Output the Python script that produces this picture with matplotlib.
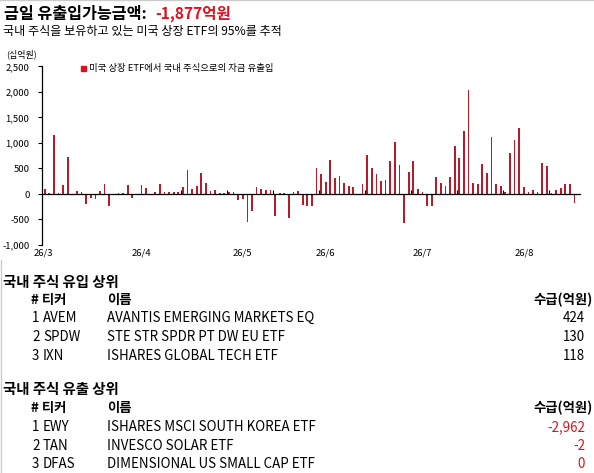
import numpy as np
import matplotlib
matplotlib.use("Agg")
import matplotlib.pyplot as plt
from matplotlib.transforms import blended_transform_factory

plt.rcParams['font.family'] = ['Noto Sans CJK KR', 'DejaVu Sans']

# daily flows, 십억원
flows = [105, 25, 1160, 20, 175, 730, 0, 65, 40, -195, -80, -95, 65, 195, -235,
         0, 20, 25, 180, -70, -25, 180, 110, 0, 45, 195, 45, 40, 45, 40,
         145, 470, 100, 155, 420, 220, 65, 80, 25, 15, 40, 40, -120, -100, -540,
         -325, 145, 100, 80, 80, -425, 20, 25, -470, 40, 65, -215, -230, -230,
         510, 390, 240, 665, 305, 355, 220, 165, 145, 0, 200, 770, 510, 390, 255,
         275, 645, 1020, 570, -560, 430, 645, 100, 40, -230, -230, 335, 215, 160, 335,
         940, 710, 1235, 2045, 215, 195, 590, 410, 1115, 195, 155, 40, 795, 1065,
         1295, 145, 40, 70, 40, 610, 550, 25, 80, 120, 195, 195, -185]
month_labels = ['26/3', '26/4', '26/5', '26/6', '26/7', '26/8']
month_idx = [-0.4, 21, 43, 61, 82, 104]

headline = '-1,877억원'

in_rank = ['1', '2', '3']
in_ticker = ['AVEM', 'SPDW', 'IXN']
in_name = ['AVANTIS EMERGING MARKETS EQ', 'STE STR SPDR PT DW EU ETF', 'ISHARES GLOBAL TECH ETF']
in_value = ['424', '130', '118']

out_rank = ['1', '2', '3']
out_ticker = ['EWY', 'TAN', 'DFAS']
out_name = ['ISHARES MSCI SOUTH KOREA ETF', 'INVESCO SOLAR ETF', 'DIMENSIONAL US SMALL CAP ETF']
out_value = ['-2,962', '-2', '0']

W, H = 594, 473
fig = plt.figure(figsize=(W / 100, H / 100), dpi=100)

def px(x, y):
    return x / W, 1 - y / H

red = '#E0101E'
bar_red = '#B81A2A'

# frame bits from the screenshot
fig.add_artist(plt.Line2D([0, 1], [1 - 0.5 / H] * 2, color='#CCCCCC', lw=1))
fig.add_artist(plt.Line2D([0.5 / W] * 2, [0, 1 - 260 / H], color='#CCCCCC', lw=1))

# title
fig.text(*px(4, 14), '금일 유출입가능금액: ', fontsize=11.7, fontweight='bold', va='center', ha='left')
fig.text(*px(155, 14), headline, fontsize=11.2, fontweight='bold', va='center', ha='left', color=red)
fig.text(*px(3, 31), '국내 주식을 보유하고 있는 미국 상장 ETF의 95%를 추적', fontsize=8.7, va='center')
fig.text(*px(6, 54), '(십억원)', fontsize=6.5, va='center')

# chart
ax = fig.add_axes([42 / W, 1 - 245 / H, 538 / W, (245 - 66.5) / H])
x = np.arange(len(flows))
ax.bar(x, flows, width=0.38, color=bar_red)
ax.set_xlim(-0.59, 116.2)
ax.set_ylim(-1000, 2500)
ax.set_yticks(np.arange(-1000, 2501, 500))
ax.set_yticklabels([f'{v:,}' for v in range(-1000, 2501, 500)])
ax.tick_params(axis='y', labelsize=6.8, length=3, width=0.8, pad=6)
for s in ['top', 'right']:
    ax.spines[s].set_visible(False)
ax.spines['bottom'].set_position(('data', 0))
ax.spines['left'].set_linewidth(0.9)
ax.spines['bottom'].set_linewidth(0.9)
ax.set_xticks(np.arange(29.5, 116, 10))
ax.tick_params(axis='x', length=3, width=0.8, direction='in', labelbottom=False)
trans = blended_transform_factory(ax.transData, ax.transAxes)
for lab, i in zip(month_labels, month_idx):
    ax.text(i, -0.045, lab, transform=trans, ha='center', va='center', fontsize=6.8)

# legend
fig.patches.append(plt.Rectangle(px(81, 71), 5 / W, 5 / H, transform=fig.transFigure,
                                 color=red, figure=fig))
fig.text(*px(89, 68), '미국 상장 ETF에서 국내 주식으로의 자금 유출입', fontsize=6.75, va='center')

# tables
def table(y0, yh, yr, title, ranks, tickers, names, values, vcolor):
    fs = 9.6
    fig.text(*px(3, y0), title, fontsize=10.4, fontweight='bold', va='center')
    fig.text(*px(31, yh), '# 티커', fontsize=fs, fontweight='bold', va='center')
    fig.text(*px(107, yh), '이름', fontsize=fs, fontweight='bold', va='center')
    fig.text(*px(593, yh), '수급(억원)', fontsize=fs, fontweight='bold', va='center', ha='right')
    for k in range(len(ranks)):
        yy = yr[k]
        fig.text(*px(32, yy), ranks[k], fontsize=fs, va='center')
        fig.text(*px(43, yy), tickers[k], fontsize=fs, va='center')
        fig.text(*px(107, yy), names[k], fontsize=fs, va='center')
        fig.text(*px(585, yy), values[k], fontsize=fs, va='center', ha='right', color=vcolor)

table(283, 300, [318, 337, 355.5], '국내 주식 유입 상위', in_rank, in_ticker, in_name, in_value, 'black')
table(390, 408, [427, 446, 464], '국내 주식 유출 상위', out_rank, out_ticker, out_name, out_value, red)

fig.savefig('out.png', dpi=100)
